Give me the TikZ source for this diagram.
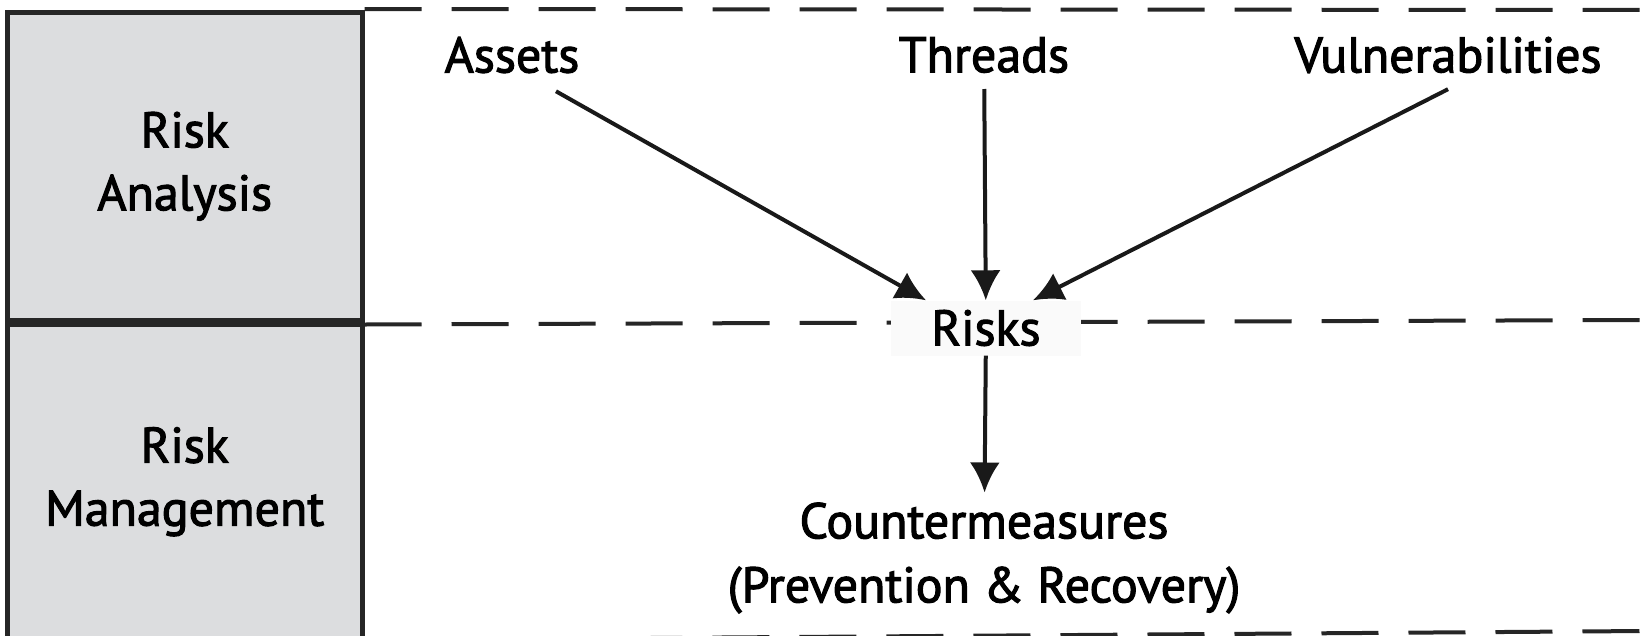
\documentclass[tikz,border=0pt]{standalone}
\usepackage{fontspec}
\setmainfont{PT Sans}[FakeBold=2.2]
\usepackage{xcolor}
\usetikzlibrary{arrows.meta, positioning}
\definecolor{panelgray}{RGB}{220, 221, 223}
\definecolor{riskfill}{RGB}{250, 250, 250}

\begin{document}
\begin{tikzpicture}[x=1pt, y=-1pt, >={Latex[length=30pt, width=30pt]},
    panel/.style={rectangle, draw=black!85, line width=4.5pt, fill=panelgray, align=center, font=\fontsize{50}{63}\selectfont, minimum width=355pt},
    term/.style={align=center, inner sep=4pt, font=\fontsize{50}{64}\selectfont},
    divider/.style={line width=4pt, draw=black!85, dash pattern=on 57pt off 30pt},
    arrow/.style={->, line width=4pt, draw=black!90}]

    \useasboundingbox (0,0) rectangle (1645,635);

    % Left panels
    \node[panel, minimum height=308pt, anchor=north west] (analysis) at (5,10) {Risk\\Analysis};
    \node[panel, minimum height=314pt, below=0pt of analysis] (management) {Risk\\Management};

    % Dashed dividers
    \coordinate (topend) at (1645,10);
    \coordinate (midend) at (1645,320);
    \coordinate (botend) at (1645,631);
    \draw[divider] ([yshift=1pt]analysis.north east) -- (topend);
    \draw[divider] ([yshift=-2pt]analysis.south east) -- (midend);
    \draw[divider] ([yshift=1pt]management.south east) -- (botend);

    % Inputs
    \node[term] (assets) at (512,55) {Assets};
    \node[term] (threads) at (984,55) {Threads};
    \node[term] (vulns) at (1448,55) {Vulnerabilities};

    % Risks
    \node[term, fill=riskfill, minimum width=190pt, minimum height=55pt] (risks) at (986,328) {Risks};

    % Countermeasures
    \node[term] (counter) at (984,558) {Countermeasures\\(Prevention \& Recovery)};

    % Connections
    \draw[arrow] ([xshift=44pt, yshift=-14pt]assets.south) -- ([xshift=-60pt]risks.north);
    \draw[arrow, shorten <=12pt] (threads) -- (risks);
    \draw[arrow] ([yshift=-12pt]vulns.south) -- ([xshift=47pt]risks.north);
    \draw[arrow, shorten >=6pt] (risks) -- (counter);
\end{tikzpicture}
\end{document}
